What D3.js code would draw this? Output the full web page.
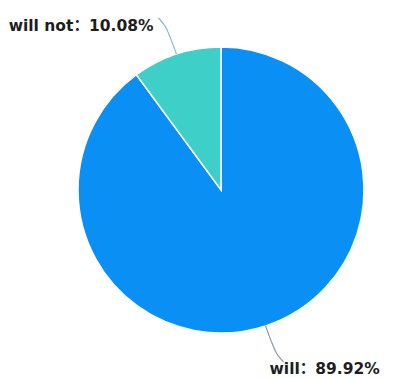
<html>
<head>
    <meta charset="utf-8">
    <style>
        body { margin: 0; background: #fff; }
        text { font-family: "DejaVu Sans", "Noto Sans CJK SC", sans-serif; font-weight: bold; }
    </style>
</head>
<body>
    <script src="https://cdn.jsdelivr.net/npm/d3@7"></script>
    <script>
        var width = 399, height = 378;

        // data
        var categories = ["will", "will not"];
        var values = [89.92, 10.08];
        var colors = ["#0a8ff5", "#3ecfc8"];
        var lineColors = ["#8a9aa8", "#86bcbc"];

        var cx = 221, cy = 190, r = 143;

        var svg = d3.select("body").append("svg")
            .attr("width", width)
            .attr("height", height);

        var pie = d3.pie().sort(null).value(d => d.value);
        var arcs = pie(categories.map((c, i) => ({ name: c, value: values[i], i: i })));

        var arc = d3.arc().innerRadius(0).outerRadius(r);

        var g = svg.append("g")
            .attr("transform", "translate(" + cx + "," + cy + ")");

        g.selectAll("path.slice")
            .data(arcs)
            .enter()
            .append("path")
            .attr("class", "slice")
            .attr("fill", d => colors[d.data.i])
            .attr("stroke", "#fff")
            .attr("stroke-width", 1.5)
            .attr("d", arc);

        // leader lines: radial out, then bend a little away from the vertical
        function pt(a, rad) {
            return [Math.sin(a) * rad, -Math.cos(a) * rad];
        }
        var line = d3.line().curve(d3.curveCatmullRom);

        arcs.forEach(function (d) {
            var mid = (d.startAngle + d.endAngle) / 2;
            var bend = Math.sin(mid) * Math.cos(mid) < 0 ? -1 : 1;
            var pts = [pt(mid, r), pt(mid + bend * 0.004, r + 16), pt(mid + bend * 0.012, r + 30), pt(mid + bend * 0.032, r + 40)];
            g.append("path")
                .attr("fill", "none")
                .attr("stroke", lineColors[d.data.i])
                .attr("stroke-width", 1.2)
                .attr("d", line(pts));

            var end = pts[pts.length - 1];
            var up = end[1] < 0;
            var label = d.data.name + "\uFF1A" + d.data.value.toFixed(2) + "%";
            g.append("text")
                .attr("x", up ? end[0] - 5 : end[0] - 14)
                .attr("y", up ? end[1] + 13 : end[1] + 12)
                .attr("text-anchor", up ? "end" : "start")
                .attr("font-size", 15.5)
                .attr("fill", "#1e1e1e")
                .text(label);
        });
    </script>
</body>
</html>
